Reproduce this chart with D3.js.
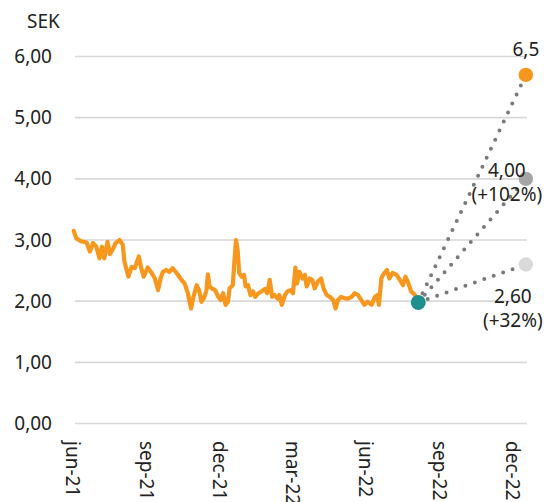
<!DOCTYPE html>
<html>
<head>
<meta charset="utf-8">
<script src="https://cdn.jsdelivr.net/npm/d3@7"></script>
<style>
body { margin: 0; background: #fff; }
svg { display: block; font-family: "Noto Sans", "Open Sans", sans-serif; }
</style>
</head>
<body>
<svg id="chart" width="547" height="502"></svg>
<script>
// kursdata (SEK)
const priceDates = [
  '2021-06-02','2021-06-05','2021-06-11','2021-06-18','2021-06-22','2021-06-26','2021-06-30',
  '2021-07-04','2021-07-07','2021-07-10','2021-07-14','2021-07-17','2021-07-21','2021-07-24','2021-07-29',
  '2021-08-02','2021-08-04','2021-08-09','2021-08-13','2021-08-17','2021-08-22','2021-08-25','2021-08-28',
  '2021-09-02','2021-09-07','2021-09-11','2021-09-15','2021-09-18','2021-09-21','2021-09-25','2021-09-29',
  '2021-10-03','2021-10-08','2021-10-14','2021-10-18','2021-10-22','2021-10-26','2021-10-29',
  '2021-11-02','2021-11-05','2021-11-08','2021-11-11','2021-11-14','2021-11-16','2021-11-18','2021-11-21','2021-11-25','2021-11-29',
  '2021-12-02','2021-12-05','2021-12-08','2021-12-11','2021-12-13','2021-12-17','2021-12-19','2021-12-21','2021-12-23','2021-12-25','2021-12-28','2021-12-31',
  '2022-01-02','2022-01-05','2022-01-08','2022-01-11','2022-01-14','2022-01-18','2022-01-22','2022-01-26','2022-01-29',
  '2022-02-01','2022-02-04','2022-02-07','2022-02-11','2022-02-13','2022-02-16','2022-02-20','2022-02-23','2022-02-27',
  '2022-03-02','2022-03-05','2022-03-07','2022-03-10','2022-03-14','2022-03-17','2022-03-19','2022-03-23','2022-03-26','2022-03-29',
  '2022-04-02','2022-04-06','2022-04-09','2022-04-13','2022-04-17','2022-04-21','2022-04-24','2022-04-27',
  '2022-05-01','2022-05-05','2022-05-09','2022-05-14','2022-05-18','2022-05-22','2022-05-26','2022-05-30',
  '2022-06-03','2022-06-08','2022-06-12','2022-06-15','2022-06-17','2022-06-20','2022-06-22','2022-06-27','2022-06-30',
  '2022-07-04','2022-07-09','2022-07-13','2022-07-17','2022-07-20','2022-07-23','2022-07-27',
  '2022-08-01','2022-08-05'
];
const priceValues = [
  3.15,3.03,2.98,2.96,2.81,2.95,2.89,
  2.70,2.89,2.70,2.97,2.77,2.86,2.95,3.00,
  2.92,2.65,2.40,2.56,2.54,2.73,2.54,2.40,
  2.55,2.46,2.37,2.18,2.37,2.48,2.51,2.48,
  2.54,2.46,2.35,2.29,2.13,1.88,2.07,
  2.26,2.18,1.99,2.05,2.16,2.44,2.24,2.21,2.18,2.07,
  2.02,2.13,1.94,1.99,2.21,2.26,2.65,3.00,2.84,2.46,2.40,2.43,
  2.24,2.26,2.10,2.16,2.07,2.13,2.16,2.20,2.13,
  2.35,2.07,2.10,2.04,2.10,1.94,2.10,2.16,2.18,
  2.13,2.55,2.29,2.48,2.37,2.43,2.24,2.37,2.35,2.21,
  2.32,2.37,2.21,2.10,2.07,2.02,1.88,2.02,
  2.07,2.05,2.04,2.07,2.13,2.10,2.02,1.94,
  1.99,1.94,2.07,2.10,1.94,2.37,2.43,2.51,2.37,
  2.46,2.43,2.35,2.26,2.40,2.32,2.16,
  2.10,1.98
];

// riktkurser
const targetDate = '2022-12-17';
const targetValues = [5.7, 4.0, 2.6];
const targetLabels = [['6,5'], ['4,00', '(+102%)'], ['2,60', '(+32%)']];

const yTicks = [0, 1, 2, 3, 4, 5, 6];
const yTickLabels = ['0,00', '1,00', '2,00', '3,00', '4,00', '5,00', '6,00'];
const xTickDates = ['2021-06-01', '2021-09-01', '2021-12-01', '2022-03-01', '2022-06-01', '2022-09-01', '2022-12-01'];
const xTickLabels = ['jun-21', 'sep-21', 'dec-21', 'mar-22', 'jun-22', 'sep-22', 'dec-22'];
const unitLabel = 'SEK';

const targetColors = ['#f7961d', '#a5a5a5', '#d9d9d9'];
const labelOffsets = [{dx: 0, dy: -19}, {dx: -19, dy: -2}, {dx: -13, dy: 39}];

const parse = d3.timeParse('%Y-%m-%d');
const svg = d3.select('#chart');
const fontSize = 19;

const x = d3.scaleTime()
  .domain([parse('2021-06-01'), parse('2022-12-01')])
  .range([73, 513]);
const y = d3.scaleLinear()
  .domain([0, 6])
  .range([423.5, 56.5]);

const gridLeft = 75, gridRight = 527;

// stödlinjer
svg.append('g').selectAll('line')
  .data(yTicks)
  .join('line')
  .attr('x1', gridLeft)
  .attr('x2', gridRight)
  .attr('y1', d => y(d))
  .attr('y2', d => y(d))
  .attr('stroke', '#d9d9d9')
  .attr('stroke-width', 1.6);

// y-axel
svg.append('g').selectAll('text')
  .data(yTicks)
  .join('text')
  .attr('x', 52)
  .attr('y', d => y(d))
  .attr('dy', '0.35em')
  .attr('text-anchor', 'end')
  .attr('font-size', fontSize)
  .attr('fill', '#222')
  .text((d, i) => yTickLabels[i]);

svg.append('text')
  .attr('x', 27)
  .attr('y', 28)
  .attr('font-size', fontSize)
  .attr('fill', '#222')
  .text(unitLabel);

// x-axel, roterade etiketter
svg.append('g').selectAll('text')
  .data(xTickDates)
  .join('text')
  .attr('transform', d => `translate(${x(parse(d))},441) rotate(90)`)
  .attr('dy', '0.35em')
  .attr('font-size', fontSize)
  .attr('fill', '#222')
  .text((d, i) => xTickLabels[i]);

// kurslinje
const series = priceDates.map((d, i) => ({date: parse(d), value: priceValues[i]}));
const line = d3.line()
  .x(d => x(d.date))
  .y(d => y(d.value));

svg.append('path')
  .datum(series)
  .attr('d', line)
  .attr('fill', 'none')
  .attr('stroke', '#f7971e')
  .attr('stroke-width', 4.2)
  .attr('stroke-linejoin', 'round')
  .attr('stroke-linecap', 'round');

// prickade linjer mot riktkurser
const last = series[series.length - 1];
const targets = targetValues.map((v, i) => ({date: parse(targetDate), value: v, i: i}));

svg.append('g').selectAll('line')
  .data(targets)
  .join('line')
  .attr('x1', x(last.date))
  .attr('y1', y(last.value))
  .attr('x2', d => x(d.date))
  .attr('y2', d => y(d.value))
  .attr('stroke', '#7a7a7a')
  .attr('stroke-width', 4)
  .attr('stroke-linecap', 'round')
  .attr('stroke-dasharray', '0,10');

svg.append('g').selectAll('circle')
  .data(targets)
  .join('circle')
  .attr('cx', d => x(d.date))
  .attr('cy', d => y(d.value))
  .attr('r', 7.2)
  .attr('fill', d => targetColors[d.i]);

svg.append('circle')
  .attr('cx', x(last.date))
  .attr('cy', y(last.value))
  .attr('r', 7.5)
  .attr('fill', '#1f8f8f');

// etiketter
const labels = svg.append('g').selectAll('text')
  .data(targets)
  .join('text')
  .attr('text-anchor', 'middle')
  .attr('font-size', fontSize)
  .attr('fill', '#222');

labels.each(function (d) {
  const off = labelOffsets[d.i];
  const cx = x(d.date) + off.dx;
  d3.select(this).selectAll('tspan')
    .data(targetLabels[d.i])
    .join('tspan')
    .attr('x', cx)
    .attr('y', (t, k) => y(d.value) + off.dy + k * 24)
    .text(t => t);
});
</script>
</body>
</html>
